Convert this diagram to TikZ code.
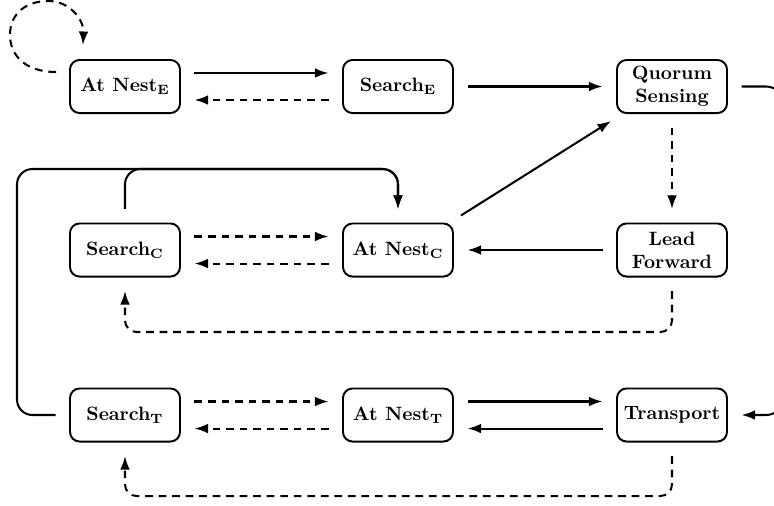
\documentclass[tikz,border=0pt]{standalone}
\usetikzlibrary{arrows.meta,calc}
\begin{document}
\begin{tikzpicture}[x=0.518pt,y=-0.518pt,
  state/.style={draw,line width=1pt,rounded corners=5pt,minimum width=57pt,minimum height=27.5pt,inner sep=2pt,align=center,font=\bfseries},
  conn/.style={line width=1.05pt,-{Latex[length=7pt,width=5pt]}},
  dsh/.style={dash pattern=on 4pt off 3pt},
  gap/.style={shorten <=7pt, shorten >=7pt}]
\useasboundingbox (0,0) rectangle (774,505);
% nodes
\node[state] (ane) at (125,86.5) {At Nest$_{\mathbf{E}}$};
\node[state] (se)  at (398,86.5) {Search$_{\mathbf{E}}$};
\node[state] (qs)  at (672,86.5) {Quorum\\Sensing};
\node[state] (sc)  at (125,250) {Search$_{\mathbf{C}}$};
\node[state] (anc) at (398,250) {At Nest$_{\mathbf{C}}$};
\node[state] (lf)  at (672,250) {Lead\\Forward};
\node[state] (st)  at (125,415) {Search$_{\mathbf{T}}$};
\node[state] (ant) at (398,415) {At Nest$_{\mathbf{T}}$};
\node[state] (tr)  at (672,415) {Transport};
% row 1
\draw[conn,gap] ([yshift=7pt]ane.east) -- ([yshift=7pt]se.west);
\draw[conn,gap,dsh] ([yshift=-7pt]se.west) -- ([yshift=-7pt]ane.east);
\draw[conn,gap] (se) -- (qs);
\draw[conn,dsh] ($(ane.west)+(-13,-14.5)$) .. controls (25,72) and (10,55) .. (10,35)
  .. controls (10,12) and (28,1) .. (48,1) .. controls (70,1) and (84,20) .. ($(ane.north west)+(14,-14)$);
% quorum
\draw[conn,gap,dsh] (qs) -- (lf);
\draw[conn,rounded corners=9pt] ([xshift=7pt]qs.east) -- ++(42,0) |- ([xshift=7pt]tr.east);
\draw[conn] ($(anc.north east)+(7,-7)$) -- ($(qs.south west)+(-5,7)$);
% row 2
\draw[conn,gap] (lf) -- (anc);
\draw[conn,gap,dsh] ([yshift=7pt]sc.east) -- ([yshift=7pt]anc.west);
\draw[conn,gap,dsh] ([yshift=-7pt]anc.west) -- ([yshift=-7pt]sc.east);
\draw[conn,dsh,rounded corners=6pt] ([yshift=-7pt]lf.south) -- (672,332) -| ([yshift=-7pt]sc.south);
\draw[conn,rounded corners=8pt] ([yshift=7pt]sc.north) -- (125,169) -| ([yshift=7pt]anc.north);
% row 3
\draw[conn,rounded corners=8pt] ([xshift=-7pt]st.west) -| (17,169) -| ([yshift=7pt]anc.north);
\draw[conn,gap,dsh] ([yshift=7pt]st.east) -- ([yshift=7pt]ant.west);
\draw[conn,gap,dsh] ([yshift=-7pt]ant.west) -- ([yshift=-7pt]st.east);
\draw[conn,gap] ([yshift=7pt]ant.east) -- ([yshift=7pt]tr.west);
\draw[conn,gap] ([yshift=-7pt]tr.west) -- ([yshift=-7pt]ant.east);
\draw[conn,dsh,rounded corners=6pt] ([yshift=-7pt]tr.south) -- (672,496) -| ([yshift=-7pt]st.south);
\end{tikzpicture}
\end{document}
